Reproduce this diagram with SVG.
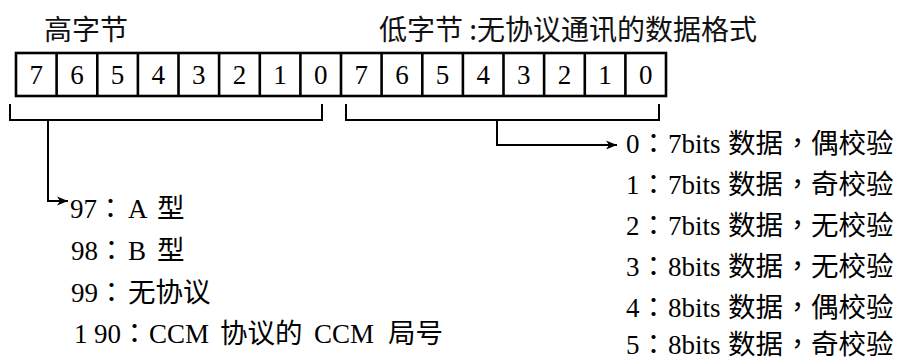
<svg xmlns="http://www.w3.org/2000/svg" width="899" height="362" viewBox="0 0 899 362">
<style>
.t{font-family:"Liberation Serif","Noto Sans CJK SC",serif;font-size:27px;fill:#000}
.c{font-family:"Noto Sans CJK SC","Noto Sans",sans-serif;font-size:27.5px}
.p{font-family:"Noto Sans CJK TC","Noto Sans CJK SC",sans-serif;font-size:27px}
.h{font-family:"Noto Sans CJK SC","Noto Sans",sans-serif;font-size:28px;fill:#111}
.d{font-family:"Liberation Serif",serif;font-size:27px;fill:#000;text-anchor:middle}
.cell{fill:#fff;stroke:#000;stroke-width:2.6}
.ln{fill:none;stroke:#000;stroke-width:2}
</style>
<defs>
<marker id="arr" markerUnits="userSpaceOnUse" markerWidth="12" markerHeight="10" refX="11" refY="5" orient="auto">
<path d="M0,0.5 L11,5 L0,9.5 L3,5 z" fill="#000"/>
</marker>
</defs>
<g id="high-byte-label"><text class="h" x="44" y="40">高字节</text></g>
<g id="low-byte-label"><text class="h" x="379" y="40">低字节 :无协议通讯的数据格式</text></g>
<g id="register">
<rect class="cell" x="16" y="53" width="650" height="43"/>
<path class="cell" d="M56.6,53V96M97.3,53V96M137.9,53V96M178.5,53V96M219.1,53V96M259.8,53V96M300.4,53V96M341,53V96M381.6,53V96M422.3,53V96M462.9,53V96M503.5,53V96M544.1,53V96M584.8,53V96M625.4,53V96"/>
<text class="d" y="84"><tspan x="36.3">7</tspan><tspan x="77">6</tspan><tspan x="117.6">5</tspan><tspan x="158.2">4</tspan><tspan x="198.8">3</tspan><tspan x="239.5">2</tspan><tspan x="280.1">1</tspan><tspan x="320.7">0</tspan><tspan x="361.3">7</tspan><tspan x="402">6</tspan><tspan x="442.6">5</tspan><tspan x="483.2">4</tspan><tspan x="523.8">3</tspan><tspan x="564.5">2</tspan><tspan x="605.1">1</tspan><tspan x="645.7">0</tspan></text>
</g>
<g id="connectors">
<path class="ln" d="M10,104V120H322V104"/>
<path class="ln" d="M346,104V120H659V104"/>
<path class="ln" d="M48,120V201H68" marker-end="url(#arr)"/>
<path class="ln" d="M497,120V145H617" marker-end="url(#arr)"/>
</g>
<g id="high-byte-values">
<text class="t" y="218"><tspan x="70">97</tspan><tspan class="p" x="97">：</tspan><tspan x="128">A</tspan><tspan class="c" x="157">型</tspan></text>
<text class="t" y="260"><tspan x="71">98</tspan><tspan class="p" x="98">：</tspan><tspan x="128">B</tspan><tspan class="c" x="157">型</tspan></text>
<text class="t" y="302"><tspan x="71">99</tspan><tspan class="p" x="98">：</tspan><tspan class="c" x="128">无协议</tspan></text>
<text class="t" y="343"><tspan x="74">1</tspan><tspan x="94">90</tspan><tspan class="p" x="121">：</tspan><tspan x="149">CCM</tspan><tspan class="c" x="220">协议的</tspan><tspan x="314">CCM</tspan><tspan class="c" x="388">局号</tspan></text>
</g>
<g id="low-byte-values">
<text class="t" y="153"><tspan x="626">0</tspan><tspan class="p" x="640">：</tspan><tspan x="668">7bits</tspan><tspan class="c" x="728">数据</tspan><tspan class="p" x="784">，</tspan><tspan class="c" x="811">偶校验</tspan></text>
<text class="t" y="194"><tspan x="626">1</tspan><tspan class="p" x="640">：</tspan><tspan x="668">7bits</tspan><tspan class="c" x="728">数据</tspan><tspan class="p" x="784">，</tspan><tspan class="c" x="811">奇校验</tspan></text>
<text class="t" y="235"><tspan x="626">2</tspan><tspan class="p" x="640">：</tspan><tspan x="668">7bits</tspan><tspan class="c" x="728">数据</tspan><tspan class="p" x="784">，</tspan><tspan class="c" x="811">无校验</tspan></text>
<text class="t" y="276"><tspan x="626">3</tspan><tspan class="p" x="640">：</tspan><tspan x="668">8bits</tspan><tspan class="c" x="728">数据</tspan><tspan class="p" x="784">，</tspan><tspan class="c" x="811">无校验</tspan></text>
<text class="t" y="317"><tspan x="626">4</tspan><tspan class="p" x="640">：</tspan><tspan x="668">8bits</tspan><tspan class="c" x="728">数据</tspan><tspan class="p" x="784">，</tspan><tspan class="c" x="811">偶校验</tspan></text>
<text class="t" y="354"><tspan x="626">5</tspan><tspan class="p" x="640">：</tspan><tspan x="668">8bits</tspan><tspan class="c" x="728">数据</tspan><tspan class="p" x="784">，</tspan><tspan class="c" x="811">奇校验</tspan></text>
</g>
</svg>
